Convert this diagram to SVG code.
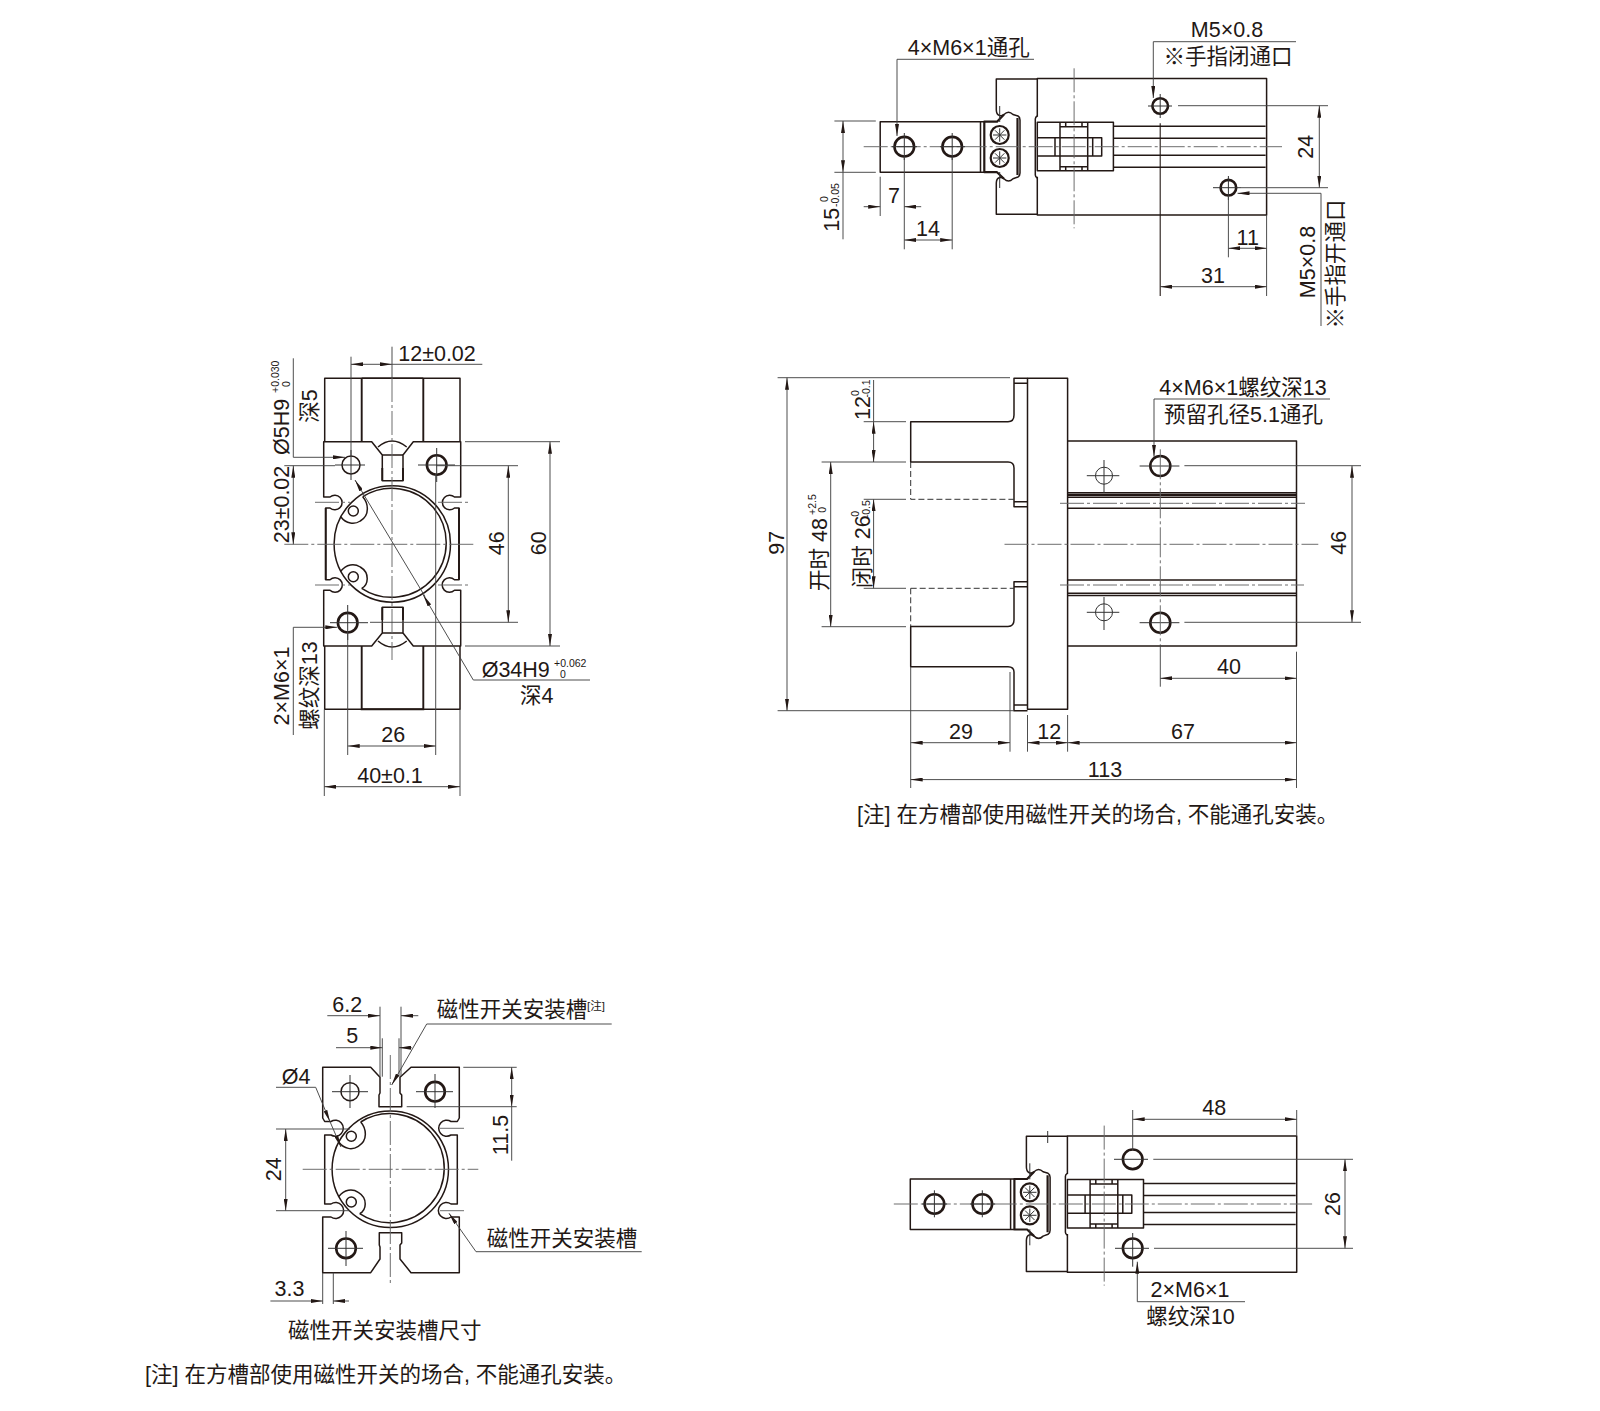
<svg xmlns="http://www.w3.org/2000/svg" xmlns:xlink="http://www.w3.org/1999/xlink" width="1600" height="1411" viewBox="0 0 1600 1411">
<style>
text{font-family:"Liberation Sans","Noto Sans CJK SC",sans-serif;fill:#231815;font-size:21.5px}
.s{font-size:10.5px}
.m{text-anchor:middle}
.o{fill:none;stroke:#231815;stroke-width:1.5;stroke-linejoin:round}
.b{fill:none;stroke:#231815;stroke-width:2.6}
.n{fill:none;stroke:#333;stroke-width:1}
.d{fill:none;stroke:#444;stroke-width:.95}
.c{fill:none;stroke:#666;stroke-width:.95;stroke-dasharray:24 3 3 3}
.a{marker-end:url(#ar)}
.aa{marker-start:url(#ar);marker-end:url(#ar)}
</style>
<defs>
<marker id="ar" markerUnits="userSpaceOnUse" viewBox="0 0 12 4" refX="12" refY="2" markerWidth="12" markerHeight="4" orient="auto-start-reverse"><path d="M0,0L12,2L0,4Z" fill="#231815"/></marker>
<g id="gripper-plan">
<path class="o" d="M1037.3,116.7V78.6H1266.6V215H1037.3V176.7"/>
<path class="o" d="M1037.3,79H996.3V110C996.5,116 1001,117 1004,114.5C1007,111.5 1010,111.5 1013,114.5L1018,116Q1020,117 1020,120V173Q1020,176 1018,177L1013,178.8C1010,181.8 1007,181.8 1004,178.8C1001,176.3 996.5,177 996.3,183V214.3H1037.3"/>
<path class="o" d="M984,121.7H880.2V172.2H984M980.5,121.7V172.2"/>
<path class="o" style="stroke-width:2.2" d="M1004,114.5L997,121.7H984.3V172.2H997L1004,178.8M1017.5,118V175"/>
<circle class="o" style="stroke-width:2.2" cx="999.7" cy="135" r="9"/>
<circle class="o" style="stroke-width:2.2" cx="999.7" cy="158" r="9"/>
<path class="n" d="M993,135H1006.4M995,130.3L1004.4,139.7M995,139.7L1004.4,130.3M999.7,128.3V141.7M993,158H1006.4M995,153.3L1004.4,162.7M995,162.7L1004.4,153.3M999.7,151.3V164.7"/>
<path class="n" d="M999.7,106V122M999.7,172V188"/>
<path class="o" d="M1037.3,116Q1035.3,117 1035.3,119V175Q1035.3,177 1037.3,178"/>
<path class="o" d="M1037.3,122.3H1113.4V170.7H1037.3ZM1060,126.7H1087.7V166.7H1060ZM1060,122.3V126.7M1065.7,122.3V126.7M1082,122.3V126.7M1087.7,122.3V126.7M1060,166.7V170.7M1065.7,166.7V170.7M1082,166.7V170.7M1087.7,166.7V170.7"/>
<path class="o" d="M1037.3,137.7H1101.7V156H1037.3M1055,137.7V156M1092.7,137.7V156"/>
<path class="o" d="M1113.4,126.3H1265.6M1113.4,138.3H1265.6M1113.4,155.3H1265.6M1113.4,167.3H1265.6"/>
<path class="c" d="M863.7,146.7H1282M1074.1,68.3V228.3"/>
<circle class="b" cx="904.3" cy="146.7" r="9.8"/>
<circle class="b" cx="952.2" cy="146.7" r="9.8"/>
<path class="n" d="M892,146.7H917M904.3,133V160M940,146.7H965M952.2,133V160"/>
</g>
<g id="ring">
<circle class="o" r="58.2"/>
<path class="o" d="M-29.6,-47.3A54.5,54.5 0 1 1 -30.6,44.3"/>
<path class="o" d="M-29.6,-47.3C-24,-41 -22,-29 -32,-23C-38,-19 -46,-20 -51.6,-27.3"/>
<path class="o" d="M-30.6,44.3C-24,41 -22,29 -32,23C-38,19 -46,20 -51.6,27.3"/>
<circle class="o" cx="-39" cy="-33" r="5"/>
<circle class="o" cx="-39" cy="32.7" r="5"/>
</g>
</defs>

<g id="view-top-closed">
<use href="#gripper-plan" xlink:href="#gripper-plan"/>
<circle class="b" cx="1160.2" cy="106" r="7.8"/>
<circle class="b" cx="1228.4" cy="187.7" r="7.8"/>
<path class="n" d="M1148,106H1172M1160.2,94V118M1213,187.7H1241M1228.4,176V200"/>
<path class="o" style="stroke-width:1.1" d="M1160.2,123.3V296"/>
<path class="d" d="M1178,105.7H1328M1241,187.7H1328"/>
<path class="d a" d="M1319.3,148V105.7"/><path class="d a" d="M1319.3,148V187.7"/>
<path class="d" d="M834.4,121H875.8M834.4,172.3H875.8"/>
<path class="d a" d="M843,150V121"/><path class="d a" d="M843,150V172.3"/><path class="d" d="M843,172.3V239.3"/>
<path class="d" d="M880.2,176.7V216M904.3,157V249.3M952.2,157V249.3M1228.4,196V257.3M1266.6,215V296"/>
<path class="d a" d="M863.7,206.7H880.2"/><path class="d a" d="M921.2,206.7H904.3"/>
<path class="d aa" d="M904.3,240H952.2"/>
<path class="d aa" d="M1228.4,248.3H1266.6"/>
<path class="d aa" d="M1160.2,286.7H1266.6"/>
<path class="d" d="M897,59.3H1034"/><path class="d a" d="M897,59.3V136"/>
<path class="d" d="M1153.3,41.7H1296"/><path class="d a" d="M1153.3,41.7V98"/>
<path class="d" d="M1321,193.3V326"/><path class="d a" d="M1321,193.3H1237.5"/>
<text class="m" x="968.7" y="55">4×M6×1通孔</text>
<text class="m" x="1227" y="37">M5×0.8</text>
<text class="m" x="1228" y="64">※手指闭通口</text>
<text class="m" transform="rotate(-90 1313 146.7)" x="1313" y="146.7">24</text>
<text transform="rotate(-90 839 231.7)" x="839" y="231.7">15</text>
<text class="s" transform="rotate(-90 839 207)" x="839" y="207">-0.05</text>
<text class="s" transform="rotate(-90 828 202)" x="828" y="202">0</text>
<text class="m" x="894" y="203">7</text>
<text class="m" x="928" y="236">14</text>
<text class="m" x="1247.7" y="245">11</text>
<text class="m" x="1213" y="283">31</text>
<text class="m" transform="rotate(-90 1315 262)" x="1315" y="262">M5×0.8</text>
<text class="m" transform="rotate(-90 1343 264)" x="1343" y="264">※手指开通口</text>
</g>

<g id="view-end-open">
<path class="o" d="M361.7,378.3H423.3"/>
<path class="o" d="M324.7,441.7V378.3H460V441.7M324.7,646V709.3H460V646"/>
<path class="b" style="stroke-width:1.9" d="M361.7,378.3V441.7M423.3,378.3V441.7M361.7,646V709.3H423.3V646"/>
<path class="o" d="M323.7,441.7H371.7L382.3,455V480.7H403V455L413.3,441.7H460.7V497H454.5A7.3,7.3 0 1 0 454.5,508H459V579.7H454.5A7.3,7.3 0 1 0 454.5,590.3H460.7V646H413.3L403,633V607.3H382.3V633L371.7,646H323.7V590.3H330A7.3,7.3 0 1 0 330,579.7H325.7V508H330A7.3,7.3 0 1 0 330,497H323.7Z"/>
<path class="o" d="M378,447Q392,435 406.7,447M382.3,455H403M378,641Q392,653 406.7,641M382.3,633H403"/>
<path class="b" style="stroke-width:1.9" d="M382.3,468V480.7M403,468V480.7M382.3,607.3V620M403,607.3V620M325.7,508V579.7M459,508V579.7"/>
<use href="#ring" xlink:href="#ring" x="392.3" y="544"/>
<circle class="o" cx="351" cy="465" r="9"/>
<circle class="b" cx="436.7" cy="465" r="9.8"/>
<circle class="b" cx="347.7" cy="622.7" r="9.8"/>
<path class="n" d="M335,465H365M351,450V480M418,465H455M436.7,448V482M330,622.7H368M347.7,605V640"/>
<path class="c" d="M315,502.3H350M438,502.3H470M315,585H350M438,585H470"/>
<path class="c" d="M392,378V660M284.3,544.3H475"/>
<path class="d" d="M392,346.7V378"/>
<path class="d" d="M351,356.7V455M284.3,465.7H335M370,622.3H518M436,465.7H518M465,441.7H560M465,646H560"/>
<path class="d aa" d="M351,364.3H392"/><path class="d" d="M392,364.3H482.3"/>
<path class="d aa" d="M508.3,465.7V622.3"/>
<path class="d aa" d="M550,441.7V646"/>
<path class="d aa" d="M293.3,465.7V544.3"/>
<path class="d" d="M293.3,358.3V457.3"/><path class="d a" d="M293.3,457.3H345"/>
<path class="d" d="M293.3,735V627.3"/><path class="d a" d="M293.3,627.3H337.3"/>
<path class="d" d="M347.7,632V755M435.7,474V755M324.3,709.3V796M460,709.3V796"/>
<path class="d aa" d="M347.7,746H435.7"/>
<path class="d aa" d="M324.3,786.7H460"/>
<path class="d a" d="M425,596.5L355,480"/>
<path class="d" d="M590,680H473.3"/><path class="d a" d="M473.3,680L423.3,595"/>
<text class="m" x="437" y="361">12±0.02</text>
<text transform="rotate(-90 289 455)" x="289" y="455">Ø5H9</text>
<text class="s" transform="rotate(-90 279 393)" x="279" y="393">+0.030</text>
<text class="s" transform="rotate(-90 290 387)" x="290" y="387">0</text>
<text class="m" transform="rotate(-90 316.7 406)" x="316.7" y="406">深5</text>
<text class="m" transform="rotate(-90 289 504.5)" x="289" y="504.5">23±0.02</text>
<text class="m" transform="rotate(-90 504 543.3)" x="504" y="543.3">46</text>
<text class="m" transform="rotate(-90 546 543.3)" x="546" y="543.3">60</text>
<text class="m" transform="rotate(-90 289 686)" x="289" y="686">2×M6×1</text>
<text class="m" transform="rotate(-90 316.7 685.5)" x="316.7" y="685.5">螺纹深13</text>
<text x="481.7" y="677">Ø34H9</text>
<text class="s" x="554" y="667.3">+0.062</text>
<text class="s" x="560" y="677.5">0</text>
<text class="m" x="536.7" y="703">深4</text>
<text class="m" x="393.3" y="742">26</text>
<text class="m" x="390" y="783">40±0.1</text>
</g>

<g id="view-side">
<path class="o" d="M1027.5,378.3H1067.6V709.3H1027.5Z"/>
<path class="o" d="M1027.5,378.3H1014V383.3H1027.5M1014,378.3V415Q1014,421.7 1008,421.7H910.7V462H1008Q1014,462 1014,468V506.7H1027.5M1014,501.7H1027.5"/>
<path class="o" d="M1027.5,581.7H1014V620Q1014,626.4 1008,626.4H910.7V666.7H1008Q1014,666.7 1014,672V710.7H1027.5M1014,586.7H1027.5M1014,705H1027.5"/>
<path class="o" d="M1067.6,441H1296.5V646H1067.6"/>
<path class="n" style="stroke-dasharray:6 3" d="M910.7,462V499.3H1014M910.7,588.3H1014M910.7,588.3V626.4"/>
<path class="o" d="M1067.6,492.7H1296.5M1067.6,497.2H1296.5M1067.6,508.3H1296.5M1067.6,580H1296.5M1067.6,593.3H1296.5M1067.6,595.5H1296.5"/>
<path class="o" style="stroke-width:2.2" d="M1067.6,494.8H1296.5"/>
<path class="c" d="M1060,503.3H1305M1060,585H1304M1004.5,544.3H1318.3"/>
<circle class="b" cx="1160.3" cy="466" r="10"/>
<circle class="b" cx="1160.3" cy="622.7" r="10"/>
<circle class="n" cx="1104" cy="475.7" r="8.5"/>
<circle class="n" cx="1104" cy="612.3" r="8.5"/>
<path class="n" d="M1086.8,475.7H1119.3M1104,460V493M1086.8,612.3H1119.3M1104,597V630M1139.6,466H1179.4M1139.6,622.7H1179.4"/>
<path class="c" style="stroke-dasharray:30 3 3 3" d="M1160.3,449.3V645"/>
<path class="d" d="M1184.4,465.7H1361M1184.4,622.3H1361M1160.3,645V686.7M1296.5,651.7V788M910.7,666.7V788M1010,672V751.7M1027.5,715V751.7M1067.6,715V751.7"/>
<path class="d" d="M777.6,377.7H1010M777.6,710.7H1014"/>
<path class="d aa" d="M787,377.7V710.7"/>
<path class="d" d="M863.7,421.7H906M821.6,462H906M863.7,499.3H906M863.7,588.3H906M821.6,626.7H906"/>
<path class="d" d="M873.6,380V421.7"/><path class="d aa" d="M873.6,421.7V462"/>
<path class="d aa" d="M830.7,462V626.7"/>
<path class="d aa" d="M873.6,499.3V588.3"/>
<path class="d aa" d="M1352,465.7V622.3"/>
<path class="d aa" d="M1160.3,678.3H1296.5"/>
<path class="d aa" d="M910.7,742.7H1010"/>
<path class="d aa" d="M1027.5,742.7H1067.6"/>
<path class="d aa" d="M1067.6,742.7H1296.5"/>
<path class="d aa" d="M910.7,779.6H1296.5"/>
<path class="d" d="M1154,399H1330"/><path class="d a" d="M1154,399V456.7"/>
<text class="m" x="1243" y="394.5">4×M6×1螺纹深13</text>
<text class="m" x="1243.5" y="421.7">预留孔径5.1通孔</text>
<text class="m" transform="rotate(-90 784 542.7)" x="784" y="542.7">97</text>
<text transform="rotate(-90 870 420)" x="870" y="420">12</text>
<text class="s" transform="rotate(-90 870 397.5)" x="870" y="397.5">-0.1</text>
<text class="s" transform="rotate(-90 859 396)" x="859" y="396">0</text>
<text transform="rotate(-90 826.5 591)" x="826.5" y="591">开时 48</text>
<text class="s" transform="rotate(-90 816 515)" x="816" y="515">+2.5</text>
<text class="s" transform="rotate(-90 826 512.7)" x="826" y="512.7">0</text>
<text transform="rotate(-90 870 588.3)" x="870" y="588.3">闭时 26</text>
<text class="s" transform="rotate(-90 870 518.3)" x="870" y="518.3">-0.5</text>
<text class="s" transform="rotate(-90 859 516.7)" x="859" y="516.7">0</text>
<text class="m" transform="rotate(-90 1346 542.7)" x="1346" y="542.7">46</text>
<text class="m" x="1229" y="674">40</text>
<text class="m" x="961" y="738.5">29</text>
<text class="m" x="1049.3" y="738.5">12</text>
<text class="m" x="1183" y="738.5">67</text>
<text class="m" x="1105" y="777">113</text>
<text x="857" y="821.5">[注] 在方槽部使用磁性开关的场合, 不能通孔安装。</text>
</g>

<g id="view-end-section">
<path class="o" d="M322.7,1067.3H370.7L380,1077.3V1093L379,1095V1106.7H401.7V1095L400,1093V1077.3L411,1067.3H459.3V1118L457.3,1121.5H451A8,8 0 1 0 451,1135H457.3V1204H451A8,8 0 1 0 451,1217H459.3V1272.7H411L400,1259V1245L401.7,1243V1232.7H379.3V1245L380,1247V1259L370.7,1272.7H322.7V1217H331A8,8 0 1 0 331,1204H324.7V1135H331A8,8 0 1 0 331,1121.5H324.7L322.7,1118Z"/>
<use href="#ring" xlink:href="#ring" x="390.3" y="1169.3"/>
<circle class="o" cx="350" cy="1091.7" r="9"/>
<circle class="b" cx="435" cy="1091.7" r="9.8"/>
<circle class="b" cx="346" cy="1248.3" r="9.8"/>
<path class="n" d="M332,1091.7H368M350,1075V1108M416,1091.7H453M435,1074V1108M328,1248.3H363M346,1231V1266"/>
<path class="c" d="M390.3,1055V1285M302.7,1169.3H478.3M440,1128.3H465M440,1210.7H465"/>
<path class="d" d="M380,1006.7V1076.7M401,1006.7V1076.7M382.3,1038.3V1076.7M399,1038.3V1076.7"/>
<path class="d a" d="M327.3,1015.7H380"/><path class="d a" d="M418.3,1015.7H401"/>
<path class="d a" d="M336,1047.7H382.3"/><path class="d a" d="M411.7,1047.7H399"/>
<path class="d" d="M426.7,1024H611.7"/><path class="d a" d="M426.7,1024L391.7,1085"/>
<path class="d" d="M276,1087.3H315.7"/><path class="d a" d="M315.7,1087.3L330,1121.7"/><path class="d a" d="M330,1121.7L341,1147"/>
<path class="d" d="M463.3,1067.3H516.7M406.7,1106.7H516.7"/>
<path class="d aa" d="M511.7,1067.3V1106.7"/><path class="d" d="M511.7,1106.7V1160.7"/>
<path class="d" d="M276,1129H350M276,1210.7H350"/>
<path class="d aa" d="M285.7,1129V1210.7"/>
<path class="d" d="M476,1251.7H641.7"/><path class="d a" d="M476,1251.7L449,1213.3"/>
<path class="d" d="M322.7,1272.7V1304M333.3,1272.7V1304"/>
<path class="d a" d="M270.4,1301H322.7"/><path class="d a" d="M349,1301H333.3"/>
<text class="m" x="347.3" y="1012">6.2</text>
<text class="m" x="352.3" y="1043">5</text>
<text x="436.7" y="1017">磁性开关安装槽</text>
<text x="587" y="1009.5" style="font-size:11.5px">[注]</text>
<text x="281.7" y="1084.3">Ø4</text>
<text class="m" transform="rotate(-90 507.7 1135)" x="507.7" y="1135">11.5</text>
<text class="m" transform="rotate(-90 280.7 1169.3)" x="280.7" y="1169.3">24</text>
<text x="486.7" y="1246">磁性开关安装槽</text>
<text class="m" x="289.5" y="1296">3.3</text>
<text class="m" x="384.7" y="1338">磁性开关安装槽尺寸</text>
<text x="145" y="1382">[注] 在方槽部使用磁性开关的场合, 不能通孔安装。</text>
</g>

<g id="view-top-open">
<use href="#gripper-plan" xlink:href="#gripper-plan" x="30.1" y="1057.3"/>
<path class="n" d="M1047.7,1131V1143"/>
<circle class="b" cx="1132.7" cy="1159.3" r="9.8"/>
<circle class="b" cx="1132.7" cy="1248.3" r="9.8"/>
<path class="n" d="M1114,1159.3H1148M1115,1248.3H1149M1132.7,1233V1266.7"/>
<path class="d" d="M1132.7,1110V1150M1296.7,1110V1135.7M1153.3,1159.3H1353M1154,1248.3H1353"/>
<path class="d aa" d="M1132.7,1119.3H1296.7"/>
<path class="d aa" d="M1345,1159.3V1248.3"/>
<path class="d" d="M1245,1301.7H1137.3"/><path class="d a" d="M1137.3,1301.7V1261.7"/>
<text class="m" x="1214.3" y="1115">48</text>
<text class="m" transform="rotate(-90 1340 1204)" x="1340" y="1204">26</text>
<text class="m" x="1190" y="1297">2×M6×1</text>
<text class="m" x="1190.5" y="1323.5">螺纹深10</text>
</g>
</svg>
